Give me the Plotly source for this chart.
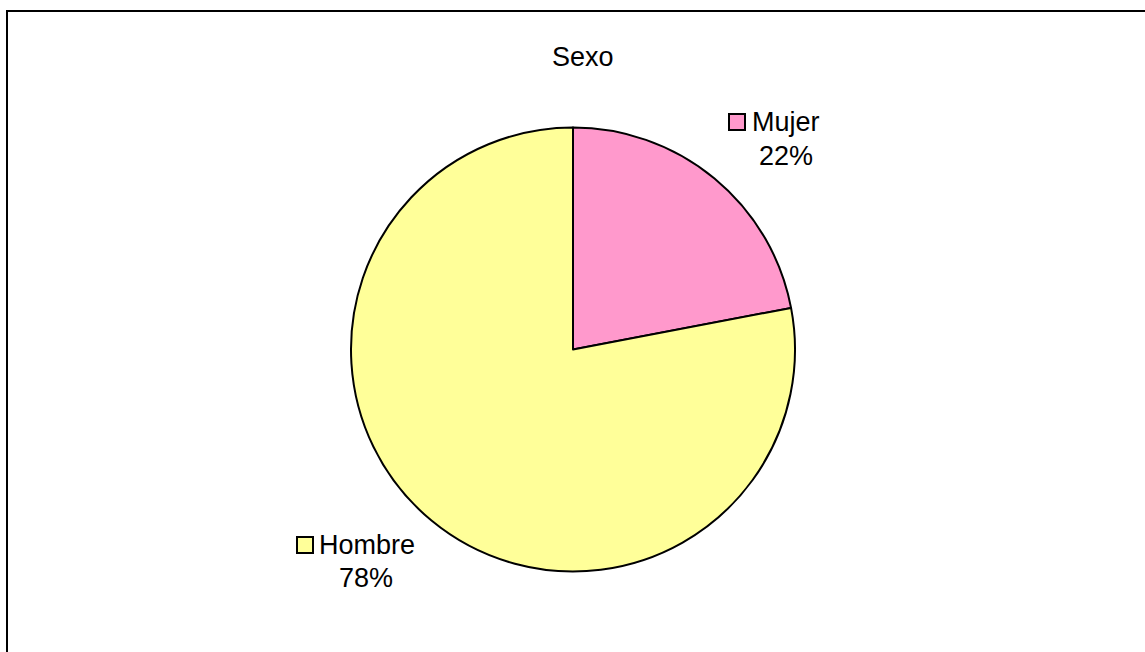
import plotly.graph_objects as go

# Datos del gráfico
categorias = ["Mujer", "Hombre"]
porcentajes = [22, 78]
colores = ["#FF99CC", "#FFFF99"]
titulo = "Sexo"

W, H = 1145, 652
FONT = "Liberation Sans, Arial, sans-serif"
FS = 27


def px(x):
    return x / W


def py(y):
    return (H - y) / H


# centro y radio del círculo en píxeles
cx, cy, r = 573, 349.5, 222

fig = go.Figure(
    go.Pie(
        labels=categorias,
        values=porcentajes,
        marker=dict(colors=colores, line=dict(color="black", width=2)),
        sort=False,
        direction="clockwise",
        rotation=0,
        textinfo="none",
        hoverinfo="label+percent",
        showlegend=False,
        domain=dict(x=[px(cx - r), px(cx + r)], y=[py(cy + r), py(cy - r)]),
    )
)

shapes = [
    # marco del área del gráfico
    dict(type="rect", xref="paper", yref="paper",
         x0=px(7), x1=1.2, y0=-0.2, y1=py(11),
         line=dict(color="black", width=2), fillcolor="rgba(0,0,0,0)", layer="above"),
]

annotations = [
    dict(text=titulo, x=px(583), y=py(57), xref="paper", yref="paper",
         showarrow=False, xanchor="center", yanchor="middle",
         font=dict(family=FONT, size=FS, color="black")),
]

# etiquetas de datos con clave de leyenda
etiquetas = {
    "Mujer": dict(key=(729, 114), name_x=750, name_y=122, pct_x=786, pct_y=156),
    "Hombre": dict(key=(297, 537), name_x=317, name_y=545, pct_x=366, pct_y=578),
}
for cat, val, col in zip(categorias, porcentajes, colores):
    e = etiquetas[cat]
    kx, ky = e["key"]
    shapes.append(dict(type="rect", xref="paper", yref="paper",
                       x0=px(kx), x1=px(kx + 16), y0=py(ky + 16), y1=py(ky),
                       line=dict(color="black", width=2), fillcolor=col))
    annotations.append(dict(text=cat, x=px(e["name_x"]), y=py(e["name_y"]),
                            xref="paper", yref="paper", showarrow=False,
                            xanchor="left", yanchor="middle",
                            font=dict(family=FONT, size=FS, color="black")))
    annotations.append(dict(text=f"{val}%", x=px(e["pct_x"]), y=py(e["pct_y"]),
                            xref="paper", yref="paper", showarrow=False,
                            xanchor="center", yanchor="middle",
                            font=dict(family=FONT, size=FS, color="black")))

fig.update_layout(
    width=W, height=H,
    margin=dict(l=0, r=0, t=0, b=0),
    paper_bgcolor="white",
    plot_bgcolor="white",
    shapes=shapes,
    annotations=annotations,
)

fig.write_html("out.html", config={"displayModeBar": False})
